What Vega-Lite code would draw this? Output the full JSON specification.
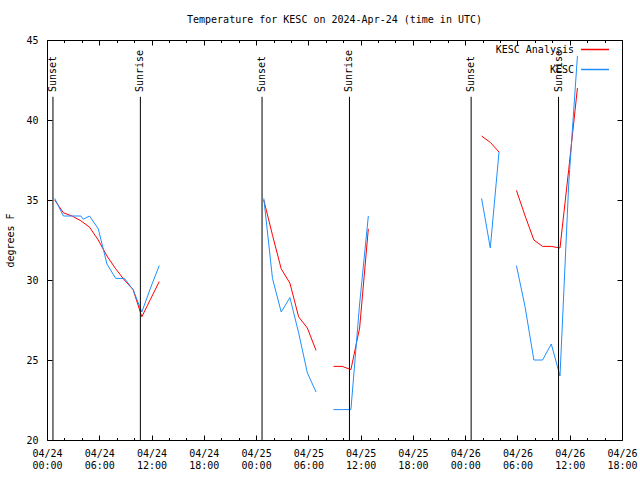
{
  "$schema": "https://vega.github.io/schema/vega-lite/v6.json",
  "width": 575,
  "height": 400,
  "autosize": {"type": "none"},
  "padding": {"left": 47, "top": 40, "right": 18, "bottom": 40},
  "background": "white",
  "config": {
    "font": "DejaVu Sans Mono",
    "view": {"stroke": "black", "strokeWidth": 1},
    "axis": {"domain": false, "grid": false, "tickColor": "black", "labelColor": "black", "titleColor": "black", "labelFont": "DejaVu Sans Mono", "labelFontSize": 10, "titleFont": "DejaVu Sans Mono", "titleFontSize": 10, "titleFontWeight": "normal"}
  },
  "title": {"text": "Temperature for KESC on 2024-Apr-24 (time in UTC)", "font": "DejaVu Sans Mono", "fontSize": 10, "fontWeight": "normal", "color": "black", "anchor": "middle", "baseline": "alphabetic", "offset": 2},
  "datasets": {
    "temps": [
      {"t": "2024-04-24T00:53:00Z", "v": 35.0, "series": "KESC Analysis", "seg": "a1"},
      {"t": "2024-04-24T01:53:00Z", "v": 34.2, "series": "KESC Analysis", "seg": "a1"},
      {"t": "2024-04-24T02:53:00Z", "v": 34.0, "series": "KESC Analysis", "seg": "a1"},
      {"t": "2024-04-24T03:53:00Z", "v": 33.7, "series": "KESC Analysis", "seg": "a1"},
      {"t": "2024-04-24T04:53:00Z", "v": 33.3, "series": "KESC Analysis", "seg": "a1"},
      {"t": "2024-04-24T05:53:00Z", "v": 32.5, "series": "KESC Analysis", "seg": "a1"},
      {"t": "2024-04-24T06:53:00Z", "v": 31.5, "series": "KESC Analysis", "seg": "a1"},
      {"t": "2024-04-24T07:53:00Z", "v": 30.7, "series": "KESC Analysis", "seg": "a1"},
      {"t": "2024-04-24T08:53:00Z", "v": 30.0, "series": "KESC Analysis", "seg": "a1"},
      {"t": "2024-04-24T09:53:00Z", "v": 29.4, "series": "KESC Analysis", "seg": "a1"},
      {"t": "2024-04-24T10:53:00Z", "v": 27.7, "series": "KESC Analysis", "seg": "a1"},
      {"t": "2024-04-24T11:53:00Z", "v": 28.8, "series": "KESC Analysis", "seg": "a1"},
      {"t": "2024-04-24T12:53:00Z", "v": 29.9, "series": "KESC Analysis", "seg": "a1"},
      {"t": "2024-04-25T00:53:00Z", "v": 35.0, "series": "KESC Analysis", "seg": "a2"},
      {"t": "2024-04-25T01:53:00Z", "v": 32.8, "series": "KESC Analysis", "seg": "a2"},
      {"t": "2024-04-25T02:53:00Z", "v": 30.7, "series": "KESC Analysis", "seg": "a2"},
      {"t": "2024-04-25T03:53:00Z", "v": 29.8, "series": "KESC Analysis", "seg": "a2"},
      {"t": "2024-04-25T04:53:00Z", "v": 27.7, "series": "KESC Analysis", "seg": "a2"},
      {"t": "2024-04-25T05:53:00Z", "v": 27.0, "series": "KESC Analysis", "seg": "a2"},
      {"t": "2024-04-25T06:53:00Z", "v": 25.6, "series": "KESC Analysis", "seg": "a2"},
      {"t": "2024-04-25T08:53:00Z", "v": 24.6, "series": "KESC Analysis", "seg": "a3"},
      {"t": "2024-04-25T09:53:00Z", "v": 24.6, "series": "KESC Analysis", "seg": "a3"},
      {"t": "2024-04-25T10:53:00Z", "v": 24.4, "series": "KESC Analysis", "seg": "a3"},
      {"t": "2024-04-25T11:53:00Z", "v": 27.0, "series": "KESC Analysis", "seg": "a3"},
      {"t": "2024-04-25T12:53:00Z", "v": 33.2, "series": "KESC Analysis", "seg": "a3"},
      {"t": "2024-04-26T01:53:00Z", "v": 39.0, "series": "KESC Analysis", "seg": "a4"},
      {"t": "2024-04-26T02:53:00Z", "v": 38.6, "series": "KESC Analysis", "seg": "a4"},
      {"t": "2024-04-26T03:53:00Z", "v": 38.0, "series": "KESC Analysis", "seg": "a4"},
      {"t": "2024-04-26T05:53:00Z", "v": 35.6, "series": "KESC Analysis", "seg": "a5"},
      {"t": "2024-04-26T06:53:00Z", "v": 34.0, "series": "KESC Analysis", "seg": "a5"},
      {"t": "2024-04-26T07:53:00Z", "v": 32.5, "series": "KESC Analysis", "seg": "a5"},
      {"t": "2024-04-26T08:53:00Z", "v": 32.1, "series": "KESC Analysis", "seg": "a5"},
      {"t": "2024-04-26T09:53:00Z", "v": 32.1, "series": "KESC Analysis", "seg": "a5"},
      {"t": "2024-04-26T10:53:00Z", "v": 32.0, "series": "KESC Analysis", "seg": "a5"},
      {"t": "2024-04-26T11:53:00Z", "v": 36.9, "series": "KESC Analysis", "seg": "a5"},
      {"t": "2024-04-26T12:53:00Z", "v": 42.0, "series": "KESC Analysis", "seg": "a5"},
      {"t": "2024-04-24T00:53:00Z", "v": 35.1, "series": "KESC", "seg": "b1"},
      {"t": "2024-04-24T01:53:00Z", "v": 34.0, "series": "KESC", "seg": "b1"},
      {"t": "2024-04-24T02:53:00Z", "v": 34.0, "series": "KESC", "seg": "b1"},
      {"t": "2024-04-24T03:53:00Z", "v": 34.0, "series": "KESC", "seg": "b1"},
      {"t": "2024-04-24T04:10:00Z", "v": 33.8, "series": "KESC", "seg": "b1"},
      {"t": "2024-04-24T04:53:00Z", "v": 34.0, "series": "KESC", "seg": "b1"},
      {"t": "2024-04-24T05:53:00Z", "v": 33.2, "series": "KESC", "seg": "b1"},
      {"t": "2024-04-24T06:53:00Z", "v": 31.0, "series": "KESC", "seg": "b1"},
      {"t": "2024-04-24T07:53:00Z", "v": 30.1, "series": "KESC", "seg": "b1"},
      {"t": "2024-04-24T08:53:00Z", "v": 30.1, "series": "KESC", "seg": "b1"},
      {"t": "2024-04-24T09:53:00Z", "v": 29.4, "series": "KESC", "seg": "b1"},
      {"t": "2024-04-24T10:53:00Z", "v": 28.0, "series": "KESC", "seg": "b1"},
      {"t": "2024-04-24T11:53:00Z", "v": 29.5, "series": "KESC", "seg": "b1"},
      {"t": "2024-04-24T12:53:00Z", "v": 30.9, "series": "KESC", "seg": "b1"},
      {"t": "2024-04-25T00:53:00Z", "v": 35.1, "series": "KESC", "seg": "b2"},
      {"t": "2024-04-25T01:53:00Z", "v": 30.1, "series": "KESC", "seg": "b2"},
      {"t": "2024-04-25T02:53:00Z", "v": 28.0, "series": "KESC", "seg": "b2"},
      {"t": "2024-04-25T03:53:00Z", "v": 28.9, "series": "KESC", "seg": "b2"},
      {"t": "2024-04-25T04:53:00Z", "v": 26.7, "series": "KESC", "seg": "b2"},
      {"t": "2024-04-25T05:53:00Z", "v": 24.2, "series": "KESC", "seg": "b2"},
      {"t": "2024-04-25T06:53:00Z", "v": 23.0, "series": "KESC", "seg": "b2"},
      {"t": "2024-04-25T08:53:00Z", "v": 21.9, "series": "KESC", "seg": "b3"},
      {"t": "2024-04-25T09:53:00Z", "v": 21.9, "series": "KESC", "seg": "b3"},
      {"t": "2024-04-25T10:53:00Z", "v": 21.9, "series": "KESC", "seg": "b3"},
      {"t": "2024-04-25T11:53:00Z", "v": 28.5, "series": "KESC", "seg": "b3"},
      {"t": "2024-04-25T12:53:00Z", "v": 34.0, "series": "KESC", "seg": "b3"},
      {"t": "2024-04-26T01:53:00Z", "v": 35.1, "series": "KESC", "seg": "b4"},
      {"t": "2024-04-26T02:53:00Z", "v": 32.0, "series": "KESC", "seg": "b4"},
      {"t": "2024-04-26T03:53:00Z", "v": 38.0, "series": "KESC", "seg": "b4"},
      {"t": "2024-04-26T05:53:00Z", "v": 30.9, "series": "KESC", "seg": "b5"},
      {"t": "2024-04-26T06:53:00Z", "v": 28.3, "series": "KESC", "seg": "b5"},
      {"t": "2024-04-26T07:53:00Z", "v": 25.0, "series": "KESC", "seg": "b5"},
      {"t": "2024-04-26T08:53:00Z", "v": 25.0, "series": "KESC", "seg": "b5"},
      {"t": "2024-04-26T09:53:00Z", "v": 26.0, "series": "KESC", "seg": "b5"},
      {"t": "2024-04-26T10:53:00Z", "v": 24.0, "series": "KESC", "seg": "b5"},
      {"t": "2024-04-26T11:53:00Z", "v": 36.0, "series": "KESC", "seg": "b5"},
      {"t": "2024-04-26T12:53:00Z", "v": 44.0, "series": "KESC", "seg": "b5"}
    ],
    "sun": [
      {"t": "2024-04-24T00:41:00Z", "label": "Sunset"},
      {"t": "2024-04-24T10:43:00Z", "label": "Sunrise"},
      {"t": "2024-04-25T00:41:00Z", "label": "Sunset"},
      {"t": "2024-04-25T10:43:00Z", "label": "Sunrise"},
      {"t": "2024-04-26T00:41:00Z", "label": "Sunset"},
      {"t": "2024-04-26T10:43:00Z", "label": "Sunrise"}
    ]
  },
  "resolve": {"axis": {"x": "independent", "y": "independent"}},
  "layer": [
    {
      "data": {"name": "temps"},
      "mark": {"type": "line", "strokeWidth": 1},
      "encoding": {
        "x": {
          "field": "t", "type": "temporal",
          "scale": {"type": "utc", "domain": [1713916800000, 1714154400000], "nice": false},
          "axis": {
            "orient": "bottom", "title": null,
            "values": [1713916800000, 1713924000000, 1713931200000, 1713938400000, 1713945600000, 1713952800000, 1713960000000, 1713967200000, 1713974400000, 1713981600000, 1713988800000, 1713996000000, 1714003200000, 1714010400000, 1714017600000, 1714024800000, 1714032000000, 1714039200000, 1714046400000, 1714053600000, 1714060800000, 1714068000000, 1714075200000, 1714082400000, 1714089600000, 1714096800000, 1714104000000, 1714111200000, 1714118400000, 1714125600000, 1714132800000, 1714140000000, 1714147200000, 1714154400000],
            "tickSize": {"condition": {"test": "utchours(datum.value) % 6 === 0", "value": -5}, "value": -2.5},
            "labelExpr": "utchours(datum.value) % 6 === 0 ? [utcFormat(datum.value, '%m/%d'), utcFormat(datum.value, '%H:%M')] : ''",
            "labelOverlap": false, "labelFlush": false, "labelAngle": 0, "labelBaseline": "top", "labelLineHeight": 12.6, "labelPadding": 13
          }
        },
        "y": {
          "field": "v", "type": "quantitative",
          "scale": {"domain": [20, 45], "nice": false, "zero": false},
          "axis": {"orient": "left", "title": "degrees F", "values": [20, 25, 30, 35, 40, 45], "tickSize": -5, "labelPadding": 14, "titlePadding": 10}
        },
        "color": {
          "field": "series", "type": "nominal",
          "scale": {"domain": ["KESC Analysis", "KESC"], "range": ["#ff0000", "#1e8fff"]},
          "legend": {"orient": "none", "legendX": 533, "legendY": -5.5, "title": null, "padding": 0, "symbolType": "stroke", "symbolSize": 784, "symbolStrokeWidth": 1.5, "rowPadding": -16.5, "labelAlign": "right", "labelOffset": -36, "labelFont": "DejaVu Sans Mono", "labelFontSize": 10, "labelColor": "black"}
        },
        "detail": {"field": "seg"}
      }
    },
    {
      "data": {"name": "sun"},
      "mark": {"type": "rule", "color": "black", "strokeWidth": 1},
      "encoding": {
        "x": {"field": "t", "type": "temporal", "axis": null},
        "y": {"datum": 41.45, "axis": null},
        "y2": {"datum": 20}
      }
    },
    {
      "data": {"name": "sun"},
      "mark": {"type": "text", "angle": 270, "align": "left", "baseline": "middle", "font": "DejaVu Sans Mono", "fontSize": 10, "color": "black"},
      "encoding": {
        "x": {"field": "t", "type": "temporal", "axis": null},
        "y": {"datum": 41.75, "axis": null},
        "text": {"field": "label"}
      }
    },
    {
      "data": {"name": "temps"},
      "mark": {"type": "point", "opacity": 0},
      "encoding": {
        "x": {
          "field": "t", "type": "temporal",
          "axis": {"orient": "top", "title": null, "labels": false,
            "tickSize": {"condition": {"test": "utchours(datum.value) % 6 === 0", "value": -5}, "value": -2.5},
            "values": [1713916800000, 1713924000000, 1713931200000, 1713938400000, 1713945600000, 1713952800000, 1713960000000, 1713967200000, 1713974400000, 1713981600000, 1713988800000, 1713996000000, 1714003200000, 1714010400000, 1714017600000, 1714024800000, 1714032000000, 1714039200000, 1714046400000, 1714053600000, 1714060800000, 1714068000000, 1714075200000, 1714082400000, 1714089600000, 1714096800000, 1714104000000, 1714111200000, 1714118400000, 1714125600000, 1714132800000, 1714140000000, 1714147200000, 1714154400000]}
        },
        "y": {
          "field": "v", "type": "quantitative",
          "axis": {"orient": "right", "title": null, "labels": false, "values": [20, 25, 30, 35, 40, 45], "tickSize": -5}
        }
      }
    }
  ]
}
